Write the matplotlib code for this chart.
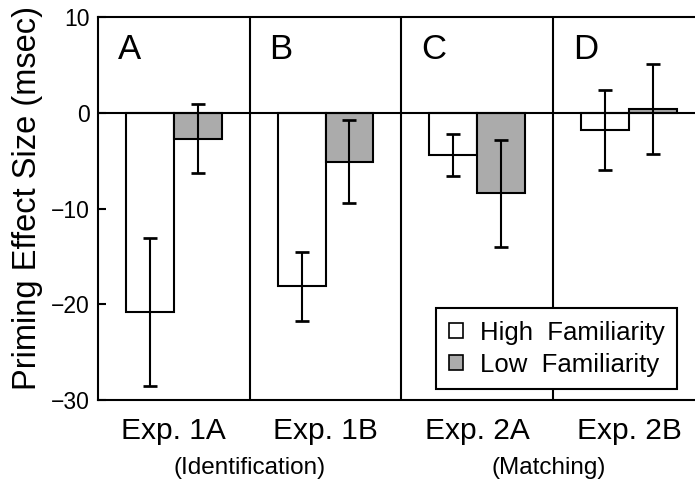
import matplotlib
matplotlib.use("Agg")
import matplotlib.pyplot as plt
from matplotlib.patches import Patch
import numpy as np

plt.rcParams['font.family'] = ['Liberation Sans', 'DejaVu Sans']

experiments = ["Exp. 1A", "Exp. 1B", "Exp. 2A", "Exp. 2B"]
panel_letters = ["A", "B", "C", "D"]
high_fam = [-20.8, -18.1, -4.4, -1.8]
high_err = [7.7, 3.6, 2.2, 4.2]
low_fam = [-2.7, -5.1, -8.4, 0.4]
low_err = [3.6, 4.3, 5.6, 4.7]
task_labels = ["(Identification)", "(Matching)"]
yticks = [-30, -20, -10, 0, 10]
series_names = ["High  Familiarity", "Low  Familiarity"]

gray = '#ababab'
lw = 1.5

fig = plt.figure(figsize=(6.95, 4.82), dpi=100)
ax = fig.add_axes([98/695, 1-400/482, 606.8/695, 383/482])

n = len(experiments)
centers = np.arange(n) + 0.5
w = 0.315
xh = centers - w/2
xl = centers + w/2

ax.bar(xh, high_fam, width=w, color='white', edgecolor='black', linewidth=lw, zorder=2)
ax.bar(xl, low_fam, width=w, color=gray, edgecolor='black', linewidth=lw, zorder=2)
ax.errorbar(xh, high_fam, yerr=high_err, fmt='none', ecolor='black', elinewidth=lw,
            capsize=4.7, capthick=lw*1.3, zorder=3)
ax.errorbar(xl, low_fam, yerr=low_err, fmt='none', ecolor='black', elinewidth=lw,
            capsize=4.7, capthick=lw*1.3, zorder=3)

ax.axhline(0, color='black', lw=lw, zorder=4)
for d in range(1, n):
    ax.axvline(d, color='black', lw=lw, zorder=4)

for i, letter in enumerate(panel_letters):
    ax.text(i + 0.13, 6.6, letter, fontsize=25, ha='left', va='center', zorder=5)

ax.set_xlim(0, n)
ax.set_ylim(-30, 10)
ax.set_yticks(yticks)
ax.tick_params(axis='y', direction='in', length=6, width=lw, labelsize=16.5, pad=6)
ax.set_xticks(centers)
ax.set_xticklabels(experiments, fontsize=21.5)
ax.tick_params(axis='x', length=0, pad=12)
for s in ax.spines.values():
    s.set_linewidth(lw)
ax.spines['right'].set_visible(False)

fig.text(28/695, 1-198/482, "Priming Effect Size (msec)", rotation=90, fontsize=23.5,
         ha='center', va='center')

ax.text(1.0, -0.177, task_labels[0], transform=ax.get_xaxis_transform(), fontsize=17.5,
        ha='center', va='center')
ax.text(2.97, -0.177, task_labels[1], transform=ax.get_xaxis_transform(), fontsize=17.5,
        ha='center', va='center')

handles = [Patch(facecolor='white', edgecolor='black', linewidth=1.2),
           Patch(facecolor=gray, edgecolor='black', linewidth=1.2)]
leg = fig.legend(handles, series_names, loc='upper left',
                 bbox_to_anchor=(436/695, 1-308/482), borderaxespad=0,
                 fontsize=18.5, fancybox=False, framealpha=1, edgecolor='black',
                 handlelength=0.55, handleheight=0.55, handletextpad=0.65,
                 borderpad=0.5, labelspacing=0.3)
leg.get_frame().set_linewidth(lw)
leg.set_zorder(10)

fig.savefig("out.png", dpi=100)
